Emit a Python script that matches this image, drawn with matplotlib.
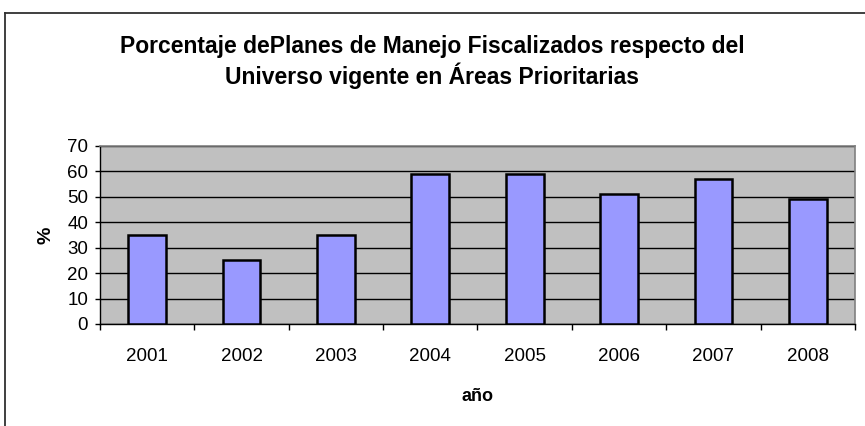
#!/usr/bin/env python

import matplotlib
matplotlib.use('Agg')
import matplotlib.pyplot as plt
from matplotlib.lines import Line2D
import numpy as np

plt.rcParams['font.family'] = ['Liberation Sans', 'DejaVu Sans']

years = ['2001', '2002', '2003', '2004', '2005', '2006', '2007', '2008']
percent = [35, 25, 35, 59, 59, 51, 57, 49]
y_ticks = [0, 10, 20, 30, 40, 50, 60, 70]

title = 'Porcentaje dePlanes de Manejo Fiscalizados respecto del\nUniverso vigente en Áreas Prioritarias'

def main():
    fig = plt.figure(figsize=(8.65, 4.26), dpi=100)
    ax = fig.add_axes([100/865, 1 - 324/426, 755/865, 178/426])

    x = np.arange(len(years))
    ax.set_facecolor('#C0C0C0')
    ax.set_axisbelow(True)
    ax.yaxis.grid(True, color='black', linewidth=1.0)
    ax.bar(x, percent, width=0.4, color='#9999FF', edgecolor='black', linewidth=1.8, zorder=3)

    ax.set_xlim(-0.5, len(years) - 0.5)
    ax.set_ylim(0, 70)
    ax.set_yticks(y_ticks)
    ax.tick_params(axis='y', labelsize=13.5, length=3.6, width=1, direction='out', pad=5)

    # category boundary ticks, labels centred in between
    ax.set_xticks(np.arange(len(years) + 1) - 0.5)
    ax.set_xticklabels([])
    ax.set_xticks(x, minor=True)
    ax.set_xticklabels(years, minor=True)
    ax.tick_params(axis='x', which='major', length=4, width=1, direction='out')
    ax.tick_params(axis='x', which='minor', length=0, labelsize=13.5, pad=17)

    for side in ['top', 'right']:
        ax.spines[side].set_color('#808080')
        ax.spines[side].set_linewidth(1.2)
    for side in ['bottom', 'left']:
        ax.spines[side].set_color('black')
        ax.spines[side].set_linewidth(1.0)

    ax.set_xlabel('año', fontsize=13, fontweight='bold', labelpad=17)
    ax.set_ylabel('%', fontsize=14, fontweight='bold', labelpad=9)

    fig.text(432/865, 1 - 62/426, title, ha='center', va='center',
             fontsize=16.5, fontweight='bold', linespacing=1.25)

    # chart area border (cropped on right and bottom)
    fig.add_artist(Line2D([5/865, 5/865], [-0.1, 1 - 13/426], color='#303030', linewidth=1.3))
    fig.add_artist(Line2D([5/865, 1.1], [1 - 13/426, 1 - 13/426], color='#303030', linewidth=1.3))

    plt.savefig('out.png', dpi=100)

if __name__ == '__main__':
    main()
